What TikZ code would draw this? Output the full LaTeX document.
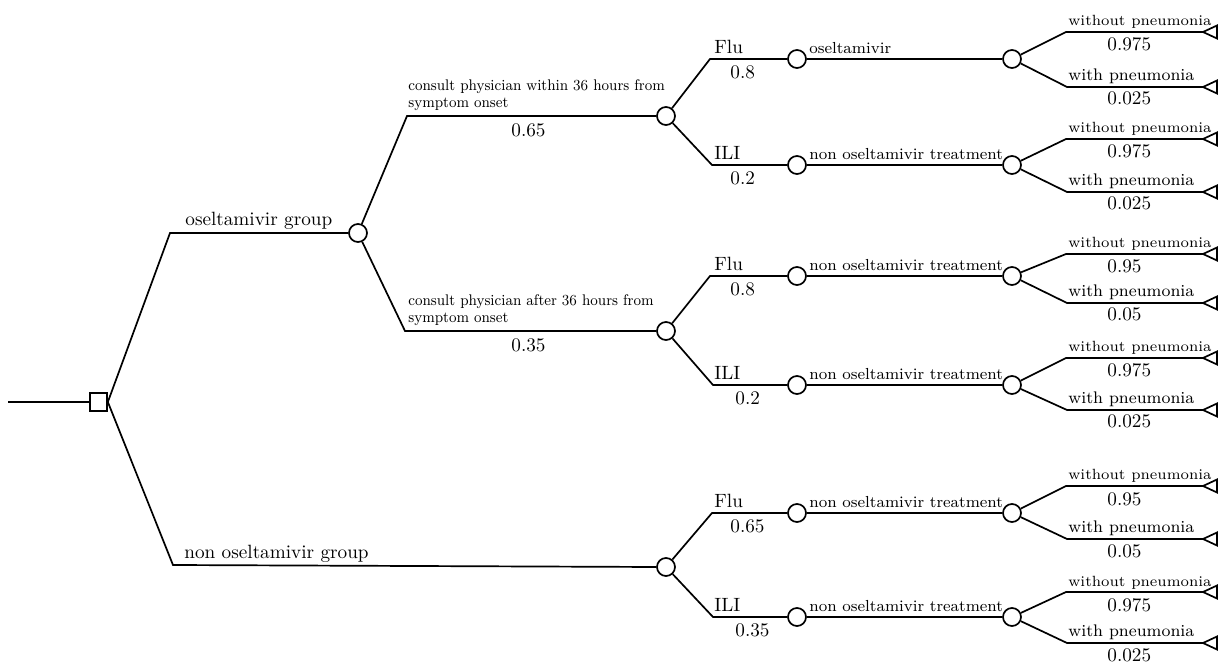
\documentclass[tikz,border=0pt]{standalone}
\usepackage{fontspec}
\begin{document}
\begin{tikzpicture}[x=0.5pt,y=-0.5pt,
  br/.style={line width=0.85pt},
  chance/.style={circle,draw,line width=0.85pt,minimum size=9pt,inner sep=0pt,fill=white},
  decision/.style={rectangle,draw,line width=0.85pt,minimum width=8.5pt,minimum height=9pt,inner sep=0pt,fill=white},
  term/.style={line width=0.85pt,fill=white},
  lbl/.style={font=\fontsize{9.6}{11}\selectfont,inner sep=0pt,anchor=base west},
  prob/.style={font=\fontsize{9.6}{11}\selectfont,inner sep=0pt,anchor=base west},
  cons/.style={font=\fontsize{7.7}{8.7}\selectfont,inner sep=0pt,anchor=south west,align=left,xscale=0.92,transform shape},
  trt/.style={font=\fontsize{8.0}{10}\selectfont,inner sep=0pt,anchor=base west},
  wout/.style={font=\fontsize{7.4}{9}\selectfont,inner sep=0pt,anchor=base west},
  wth/.style={font=\fontsize{8.4}{10}\selectfont,inner sep=0pt,anchor=base west}]
\useasboundingbox (0,0) rectangle (1225,667);

% root and first level
\coordinate (s) at (8,402);
\node[decision] (D) at (98.5,402) {};
\coordinate (e1) at (170,233);
\coordinate (e2) at (173,565);
\node[chance] (C1) at (358,233) {};
\node[chance] (C2) at (666,567) {};
\draw[br] (s) -- (D.west);
\draw[br] (D.east) -- (e1) -- (C1.west);
\draw[br] (D.east) -- (e2) -- (C2.west);
\node[lbl] at (185,226) {oseltamivir group};
\node[lbl] at (184,558) {non oseltamivir group};

% second level
\coordinate (e11) at (407,116);
\coordinate (e12) at (405,331);
\node[chance] (C11) at (666,116) {};
\node[chance] (C12) at (666,331) {};
\draw[br] (C1) -- (e11) -- (C11.west);
\draw[br] (C1) -- (e12) -- (C12.west);
\node[cons] at (408,111) {consult physician within 36 hours from\\symptom onset};
\node[prob] at (511,137) {0.65};
\node[cons] at (408,326) {consult physician after 36 hours from\\symptom onset};
\node[prob] at (511,352) {0.35};

% Flu / ILI level
\foreach \pa/\nm/\xe/\yy/\lab/\pr/\px in {
  C11/A1/710/59/Flu/0.8/730,
  C11/A2/712/165/ILI/0.2/730,
  C12/A3/710/276/Flu/0.8/730,
  C12/A4/713/385/ILI/0.2/735,
  C2/A5/712/513/Flu/0.65/730,
  C2/A6/713/617/ILI/0.35/735}{
  \coordinate (e\nm) at (\xe,\yy);
  \node[chance] (\nm) at (797,\yy) {};
  \draw[br] (\pa) -- (e\nm) -- (\nm.west);
  \node[lbl] at (714,\yy-5.5) {\lab};
  \node[prob] at (\px,\yy+19.5) {\pr};
}

% treatment level
\foreach \k/\yy/\lab in {
  1/59/oseltamivir,
  2/165/non oseltamivir treatment,
  3/276/non oseltamivir treatment,
  4/385/non oseltamivir treatment,
  5/513/non oseltamivir treatment,
  6/617/non oseltamivir treatment}{
  \node[chance] (T\k) at (1012,\yy) {};
  \draw[br] (A\k.east) -- (T\k.west);
  \node[trt] at (809,\yy-5.5) {\lab};
}

% outcomes
\foreach \k/\u/\l/\pu/\pl in {
  1/32/87/0.975/0.025,
  2/139/192/0.975/0.025,
  3/254/303/0.95/0.05,
  4/358/410/0.975/0.025,
  5/486/539/0.95/0.05,
  6/592/643/0.975/0.025}{
  \coordinate (U\k) at (1066,\u);
  \coordinate (L\k) at (1067,\l);
  \coordinate (UT\k) at (1203,\u);
  \coordinate (LT\k) at (1203,\l);
  \draw[br] (T\k) -- (U\k) -- (UT\k);
  \draw[br] (T\k) -- (L\k) -- (LT\k);
  \draw[term] (UT\k) -- ++(14,-6.5) -- ++(0,13) -- cycle;
  \draw[term] (LT\k) -- ++(14,-6.5) -- ++(0,13) -- cycle;
  \node[wout] at (1068,\u-6) {without pneumonia};
  \node[prob] at (1107,\u+19) {\pu};
  \node[wth] at (1068,\l-6.5) {with pneumonia};
  \node[prob] at (1107,\l+18) {\pl};
}
\end{tikzpicture}
\end{document}
